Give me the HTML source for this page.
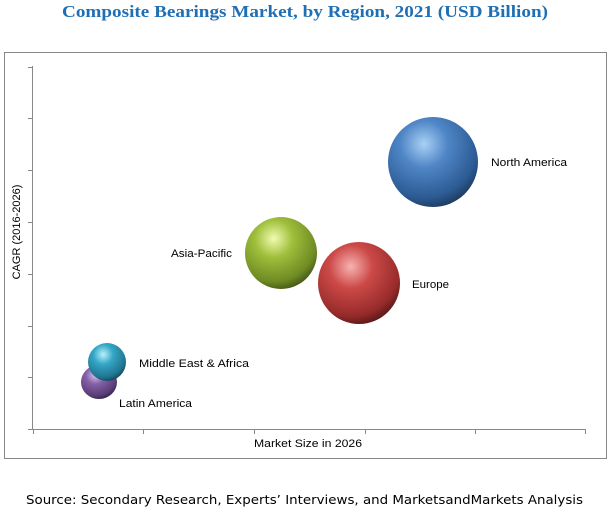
<!DOCTYPE html>
<html><head><meta charset="utf-8"><style>
html,body{margin:0;padding:0;background:#fff;}
body{width:610px;height:519px;overflow:hidden;}
</style></head><body>
<svg width="610" height="519" viewBox="0 0 610 519" xmlns="http://www.w3.org/2000/svg">
<defs>
<radialGradient id="gb" cx="0.4" cy="0.3" r="0.75"><stop offset="0" stop-color="#a9d0f5"/><stop offset="0.35" stop-color="#4f86c6"/><stop offset="0.8" stop-color="#2c5a93"/><stop offset="1" stop-color="#1b3556"/></radialGradient>
<radialGradient id="gg" cx="0.4" cy="0.3" r="0.75"><stop offset="0" stop-color="#f1fbb0"/><stop offset="0.35" stop-color="#9fbf3b"/><stop offset="0.8" stop-color="#6e8a23"/><stop offset="1" stop-color="#3e4e14"/></radialGradient>
<radialGradient id="gr" cx="0.4" cy="0.3" r="0.75"><stop offset="0" stop-color="#f7b3b2"/><stop offset="0.35" stop-color="#cc4a48"/><stop offset="0.8" stop-color="#962b2a"/><stop offset="1" stop-color="#4d1515"/></radialGradient>
<radialGradient id="gc" cx="0.4" cy="0.3" r="0.75"><stop offset="0" stop-color="#b8f1fb"/><stop offset="0.35" stop-color="#35a6c6"/><stop offset="0.8" stop-color="#1f7590"/><stop offset="1" stop-color="#0f3e4d"/></radialGradient>
<radialGradient id="gp" cx="0.4" cy="0.3" r="0.75"><stop offset="0" stop-color="#d9c4ef"/><stop offset="0.35" stop-color="#8560a8"/><stop offset="0.8" stop-color="#5a3d78"/><stop offset="1" stop-color="#2f1f40"/></radialGradient>
</defs>
<text x="62" y="17" textLength="486" lengthAdjust="spacingAndGlyphs" font-family="Liberation Serif, serif" font-weight="bold" font-size="17" fill="#1f6fb5">Composite Bearings Market, by Region, 2021 (USD Billion)</text>
<rect x="4.5" y="52.5" width="602" height="406" fill="none" stroke="#888" stroke-width="1"/>
<g stroke="#888" stroke-width="1">
<line x1="32.5" y1="66" x2="32.5" y2="429"/>
<line x1="32" y1="429.5" x2="586" y2="429.5"/>
<line x1="28" y1="67.5" x2="32" y2="67.5"/><line x1="28" y1="118.5" x2="32" y2="118.5"/><line x1="28" y1="170.5" x2="32" y2="170.5"/><line x1="28" y1="222.5" x2="32" y2="222.5"/><line x1="28" y1="274.5" x2="32" y2="274.5"/><line x1="28" y1="326.5" x2="32" y2="326.5"/><line x1="28" y1="377.5" x2="32" y2="377.5"/><line x1="28" y1="429.5" x2="32" y2="429.5"/>
<line x1="33.5" y1="429" x2="33.5" y2="434"/><line x1="143.5" y1="429" x2="143.5" y2="434"/><line x1="254.5" y1="429" x2="254.5" y2="434"/><line x1="365.5" y1="429" x2="365.5" y2="434"/><line x1="475.5" y1="429" x2="475.5" y2="434"/><line x1="585.5" y1="429" x2="585.5" y2="434"/>
</g>
<ellipse cx="433" cy="162" rx="45" ry="45" fill="url(#gb)"/>
<ellipse cx="281" cy="253" rx="36" ry="36" fill="url(#gg)"/>
<ellipse cx="359" cy="283" rx="41" ry="41" fill="url(#gr)"/>
<ellipse cx="99" cy="382" rx="18" ry="17" fill="url(#gp)"/>
<ellipse cx="107" cy="362" rx="19" ry="19" fill="url(#gc)"/>
<g font-family="Liberation Sans, sans-serif" font-size="11" fill="#000" lengthAdjust="spacingAndGlyphs">
<text x="491" y="166" textLength="76" lengthAdjust="spacingAndGlyphs">North America</text>
<text x="171" y="257" textLength="61" lengthAdjust="spacingAndGlyphs">Asia-Pacific</text>
<text x="412" y="288" textLength="37" lengthAdjust="spacingAndGlyphs">Europe</text>
<text x="139" y="367" textLength="110" lengthAdjust="spacingAndGlyphs">Middle East &amp; Africa</text>
<text x="119" y="407" textLength="73" lengthAdjust="spacingAndGlyphs">Latin America</text>
<text x="254" y="447" textLength="108" lengthAdjust="spacingAndGlyphs">Market Size in 2026</text>
<text transform="translate(20,232) rotate(-90)" text-anchor="middle">CAGR (2016-2026)</text>
</g>
<text x="26" y="504" textLength="557" lengthAdjust="spacingAndGlyphs" font-family="DejaVu Sans, sans-serif" font-size="12.5" fill="#000">Source: Secondary Research, Experts’ Interviews, and MarketsandMarkets Analysis</text>
</svg>
</body></html>
